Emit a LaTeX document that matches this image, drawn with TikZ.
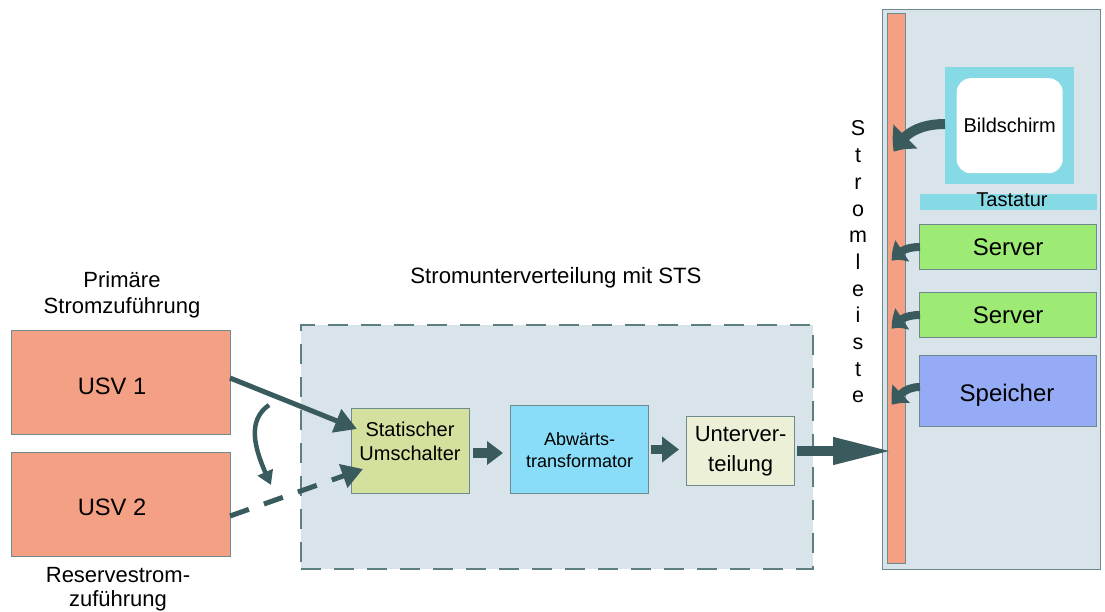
\documentclass[tikz,border=0pt]{standalone}
\usepackage{fontspec}
\setmainfont{Liberation Sans}
\usetikzlibrary{arrows.meta,bending,calc}
\definecolor{salmon}{HTML}{F4A085}
\definecolor{edgec}{HTML}{6E8A8E}
\definecolor{contfill}{HTML}{D9E4EA}
\definecolor{dashc}{HTML}{5E7F80}
\definecolor{swfill}{HTML}{D4E09D}
\definecolor{trfill}{HTML}{8ADDF8}
\definecolor{uvfill}{HTML}{ECF0D6}
\definecolor{cyanf}{HTML}{86DAE6}
\definecolor{srvfill}{HTML}{9DEB75}
\definecolor{memfill}{HTML}{95ABF5}
\definecolor{arrc}{HTML}{3A5B5E}
\newcommand{\fsz}[2]{\fontsize{#1pt}{#2pt}\selectfont}
\tikzset{
  box/.style={draw=edgec, line width=1.2pt, anchor=north west, inner sep=0pt, align=center},
  plain/.style={anchor=north west, inner sep=0pt, align=center},
  lbl/.style={align=center, inner sep=0pt},
  blockarr/.style={draw=arrc, line width=#1},
  thinarr/.style={draw=arrc, line width=5pt, -{Triangle[length=22pt,width=24pt]}},
  devarr/.style={draw=arrc, line width=8pt, -{Triangle[bend,length=15pt,width=24pt]}}
}
\begin{document}
\begin{tikzpicture}[x=1pt,y=-1pt]
\useasboundingbox (0,0) rectangle (1105,611);

% container for STS
\node[box, draw=dashc, line width=2pt, dash pattern=on 20pt off 13pt, fill=contfill,
      minimum width=512pt, minimum height=244pt] (cont) at (300,324) {};
\node[lbl, font=\fsz{22.2}{26}] (conttitle) at (556,278) {Stromunterverteilung mit STS};

% UPS boxes
\node[box, fill=salmon, minimum width=219pt, minimum height=104pt] (usv1) at (11,330) {};
\node[lbl, font=\fsz{23.7}{28}] (usv1t) at (112,386) {USV 1};
\node[box, fill=salmon, minimum width=219pt, minimum height=104pt] (usv2) at (11,452) {};
\node[lbl, font=\fsz{23.7}{28}] (usv2t) at (112,507) {USV 2};
\node[lbl, font=\fsz{22}{26}] (prim) at (122,295) {Primäre\\Stromzuführung};
\node[lbl, font=\fsz{22}{24.5}] (res) at (118,589) {Reservestrom-\\zuführung};

% inner chain
\node[box, fill=swfill, minimum width=118pt, minimum height=85pt] (sw) at (351,408) {};
\node[lbl, font=\fsz{20}{24}] (swtext) at (410,441) {Statischer\\Umschalter};
\node[box, fill=trfill, minimum width=138pt, minimum height=88pt, font=\fsz{18}{22}] (tr) at (510,405) {Abwärts-\\transformator};
\node[box, fill=uvfill, minimum width=108pt, minimum height=69pt, font=\fsz{22}{30}] (uv) at (686,416) {Unterver-\\teilung};

% rack
\node[box, fill=contfill, minimum width=218pt, minimum height=560pt] (rack) at (882,9) {};
\node[box, fill=salmon, minimum width=18pt, minimum height=550pt] (strip) at (887,13) {};
\node[lbl, font=\fsz{21.5}{26.7}] (sl) at (858,262) {S\\t\\r\\o\\m\\l\\e\\i\\s\\t\\e};

\node[plain, fill=cyanf, minimum width=129pt, minimum height=117pt] (bild) at (945,67) {};
\node[lbl, fill=white, rounded corners=14pt, minimum width=106pt, minimum height=95pt, font=\fsz{20}{24}] (screen) at (bild.center) {Bildschirm};
\node[plain, fill=cyanf, minimum width=177pt, minimum height=16pt] (tast) at (920,194) {};
\node[lbl, font=\fsz{20}{24}] (tasttext) at (1012,200) {Tastatur};
\node[box, fill=srvfill, minimum width=177pt, minimum height=45pt, font=\fsz{24}{28}] (srv1) at (919,224) {Server};
\node[box, fill=srvfill, minimum width=177pt, minimum height=45pt, font=\fsz{24}{28}] (srv2) at (919,292) {Server};
\node[box, fill=memfill, minimum width=177pt, minimum height=71pt] (mem) at (919,355) {};
\node[lbl, font=\fsz{24}{28}] (memt) at (1007,395) {Speicher};

% coordinates
\coordinate (a1s) at (230,378);
\coordinate (a1e) at (357,429);
\coordinate (a2s) at (230,516);
\coordinate (a2e) at (363,469);
\coordinate (cs) at (269,405);
\coordinate (ce) at (271,485);
\coordinate (b1s) at (473,453);
\coordinate (b1e) at (503,453);
\coordinate (b2s) at (651,449.5);
\coordinate (b2e) at (679,449.5);
\coordinate (b3s) at (797,451);
\coordinate (b3e) at (893,451);
\coordinate (d1s) at (945,124);
\coordinate (d1e) at (894,152);
\coordinate (d2s) at (920,247);
\coordinate (d2e) at (892,261);
\coordinate (d3s) at (920,315);
\coordinate (d3e) at (892,329);
\coordinate (d4s) at (920,387);
\coordinate (d4e) at (892,405);

% connectors
\draw[thinarr] (a1s) -- (a1e);
\draw[thinarr, dash pattern=on 20pt off 16pt, -{Triangle[length=21pt,width=24pt]}] (a2s) -- (a2e);
\draw[draw=arrc, line width=4.5pt, -{Triangle[bend,length=14pt,width=16pt]}] (cs) to[out=215,in=115] (ce);

\draw[blockarr=10pt, -{Triangle[length=16pt,width=23pt]}] (b1s) -- (b1e);
\draw[blockarr=9pt, -{Triangle[length=17pt,width=25pt]}] (b2s) -- (b2e);
\draw[blockarr=10pt, -{Triangle[length=60pt,width=25pt]}] (b3s) -- (b3e);

\draw[devarr, line width=10pt, -{Triangle[bend,length=20pt,width=32pt]}] (d1s) to[out=180,in=65] (d1e);
\draw[devarr] (d2s) to[out=180,in=60] (d2e);
\draw[devarr] (d3s) to[out=180,in=60] (d3e);
\draw[devarr] (d4s) to[out=180,in=60] (d4e);
\end{tikzpicture}
\end{document}
